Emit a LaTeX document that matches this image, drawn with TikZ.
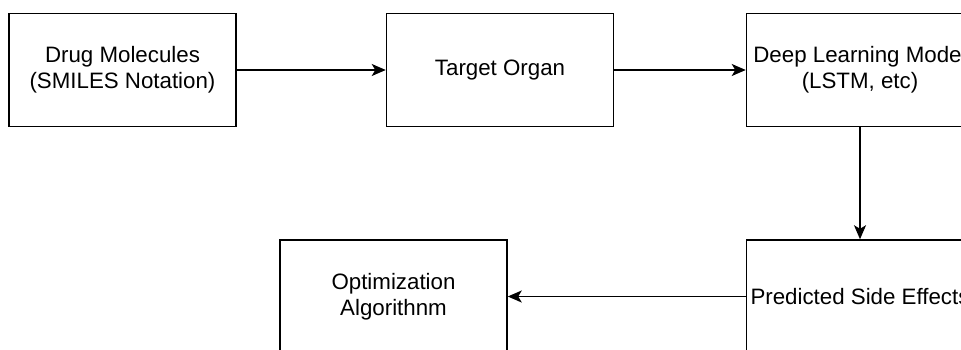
\documentclass[tikz,border=0pt]{standalone}
\usepackage{fontspec}
\setmainfont{Liberation Sans}
\usetikzlibrary{arrows.meta,positioning}

\begin{document}
\begin{tikzpicture}[x=1pt,y=-1pt,
        stage/.style={draw,fill=white,line width=1.5pt,minimum width=227pt,minimum height=113pt,align=center,inner sep=0pt,font=\fontsize{22.3}{26}\selectfont},
        flow/.style={line width=1.5pt,-{Stealth[length=14pt,width=12pt,inset=3.5pt]}}]
        \clip (0,0) rectangle (961,350);
        \fill[white] (0,0) rectangle (961,350);

        \node[stage] (drug)  at (122.5,70)  {Drug Molecules\\(SMILES Notation)};
        \node[stage] (organ) at (500,70)    {Target Organ};
        \node[stage] (model) at (860,70)    {Deep Learning Model\\(LSTM, etc)};
        \node[stage] (side)  at (860,296.5) {Predicted Side Effects};
        \node[stage] (optim) at (393.5,296.5) {Optimization\\Algorithnm};

        \draw[flow] (drug)  -- (organ);
        \draw[flow] (organ) -- (model);
        \draw[flow] (model) -- (side);
        \draw[flow] (side)  -- (optim);
    \end{tikzpicture}
\end{document}
